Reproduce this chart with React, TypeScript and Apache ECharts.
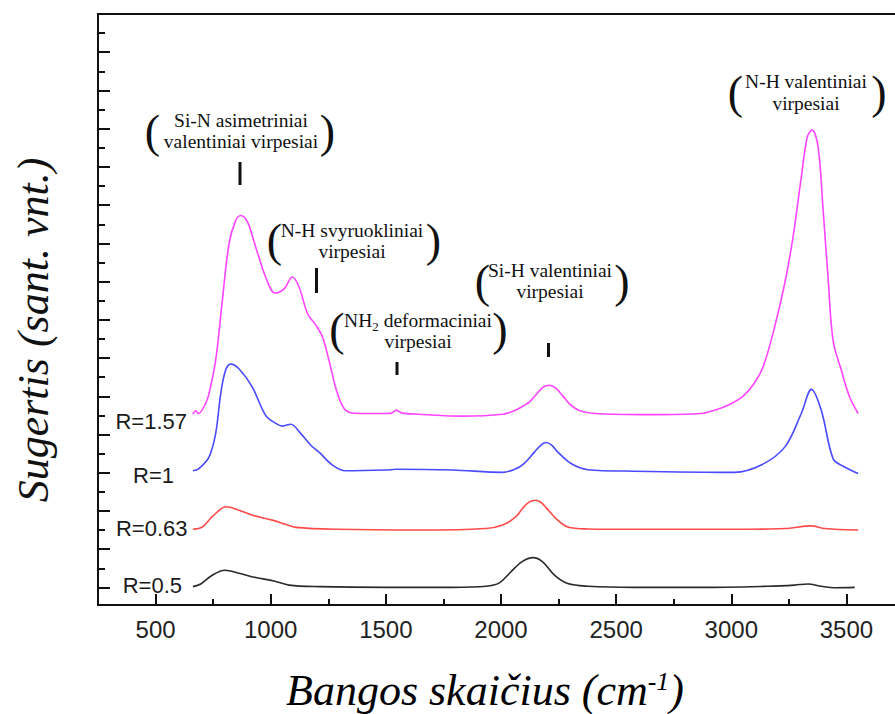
import React, { useEffect, useRef } from "react";
import * as echarts from "echarts";

// IR absorption spectra, [wavenumber cm^-1, absorbance (a.u., stacked)]
const seriesNames = ["R=1.57", "R=1", "R=0.63", "R=0.5"];
const seriesColors = ["#ff44ff", "#4a4aff", "#ff4a4a", "#2a2a2a"];

const specR157: [number, number][] = [
  [662, 45.3], [674, 46.2], [686, 45.5], [717, 48.1], [732, 50.7], [761, 59.4],
  [790, 75.1], [819, 89.9], [848, 96.0], [870, 97.3], [899, 95.6], [935, 89.0],
  [978, 81.2], [1019, 77.0], [1058, 78.1], [1094, 81.2], [1123, 78.6], [1160, 71.6],
  [1196, 68.6], [1225, 65.5], [1253, 59.4], [1290, 50.7], [1326, 46.3], [1384, 45.5],
  [1500, 45.5], [1525, 45.6], [1546, 46.3], [1570, 45.6], [1645, 45.3], [1833, 44.8],
  [2007, 45.3], [2060, 46.3], [2095, 47.4], [2125, 48.6], [2155, 50.6], [2183, 52.4],
  [2210, 52.9], [2238, 52.1], [2268, 50.1], [2300, 47.9], [2340, 46.3], [2406, 45.5],
  [2652, 45.2], [2870, 45.5], [2930, 46.4], [2990, 47.8], [3050, 50.0], [3100, 53.4],
  [3140, 58.0], [3188, 68.1], [3232, 79.5], [3268, 91.6], [3304, 107.3], [3330, 117.8],
  [3351, 119.7], [3377, 115.2], [3399, 98.6], [3420, 81.2], [3442, 64.6], [3478, 56.8],
  [3514, 49.8], [3551, 45.5],
];

const specR1: [number, number][] = [
  [662, 30.5], [688, 31.1], [732, 34.1], [761, 40.3], [783, 50.7], [804, 56.8],
  [826, 58.4], [862, 57.2], [920, 52.4], [978, 45.0], [1022, 42.9], [1051, 42.2],
  [1087, 42.7], [1130, 40.3], [1174, 37.2], [1210, 35.4], [1268, 32.0], [1326, 30.5],
  [1500, 30.7], [1543, 30.9], [1790, 30.7], [2007, 30.1], [2060, 30.9], [2100, 32.4],
  [2145, 35.4], [2175, 37.3], [2196, 37.9], [2220, 37.2], [2247, 35.4], [2304, 32.4],
  [2377, 30.8], [2580, 30.4], [3014, 30.1], [3130, 32.0], [3232, 36.7], [3304, 45.5],
  [3348, 51.8], [3391, 46.3], [3442, 33.7], [3486, 31.7], [3551, 29.8],
];

const specR063: [number, number][] = [
  [662, 15.2], [703, 15.8], [746, 18.5], [807, 21.1], [862, 20.2], [920, 18.9],
  [1007, 17.6], [1065, 16.5], [1109, 15.7], [1283, 15.2], [1645, 15.0], [1935, 15.4],
  [2007, 16.3], [2065, 18.5], [2095, 20.8], [2122, 22.3], [2148, 22.8], [2172, 22.3],
  [2200, 20.6], [2239, 18.0], [2290, 15.8], [2377, 15.3], [2580, 15.2], [3014, 15.2],
  [3232, 15.4], [3348, 16.1], [3406, 15.4], [3551, 15.0],
];

const specR05: [number, number][] = [
  [662, 0.2], [696, 0.9], [746, 3.2], [801, 4.5], [862, 3.7], [935, 2.6],
  [1014, 1.7], [1080, 0.6], [1210, 0.2], [1500, 0.0], [1790, 0.0], [1935, 0.3],
  [1993, 1.2], [2037, 3.7], [2090, 6.7], [2140, 7.8], [2181, 6.7], [2232, 3.2],
  [2290, 1.0], [2377, 0.3], [2580, 0.0], [2870, 0.0], [3160, 0.3], [3275, 0.6],
  [3333, 0.9], [3391, 0.3], [3449, -0.1], [3536, 0.0],
];

const spectra = [specR157, specR1, specR063, specR05];

const xMajorTicks = [500, 1000, 1500, 2000, 2500, 3000, 3500];
const xMinorTicks = [750, 1250, 1750, 2250, 2750, 3250];
const yMajorTicks = [0, 10, 20, 30, 40, 50, 60, 70, 80, 90, 100, 110, 120, 130, 140, 150];
const yMinorTicks = [5, 15, 25, 35, 45, 55, 65, 75, 85, 95, 105, 115, 125, 135, 145];

// band assignments
const bandNotes: string[][] = [
  ["Si-N asimetriniai", "valentiniai virpesiai"],
  ["N-H svyruokliniai", "virpesiai"],
  ["{t|NH}{s|2}{t| deformaciniai}", "virpesiai"],
  ["Si-H valentiniai", "virpesiai"],
  ["N-H valentiniai", "virpesiai"],
];

const xTitle = "{t|Bangos skaičius (cm}{sup|-1}{t|)}";
const yTitle = "Sugertis (sant. vnt.)";

const SERIF = '"Liberation Serif", "Times New Roman", serif';
const SANS = '"Liberation Sans", Arial, sans-serif';
const INK = "#111";

// layout of each bracketed note: centre x, line centres, bracket centres, marker bar
const noteLayout = [
  { cx: 241, y1: 120, y2: 141.5, lp: 152.5, rp: 327.5, py: 131, bar: [240, 162, 185] },
  { cx: 352, y1: 230, y2: 251.5, lp: 274.5, rp: 433.5, py: 240, bar: [316.5, 268, 293] },
  { cx: 418, y1: 320, y2: 341.5, lp: 337, rp: 500, py: 329, bar: [397, 362, 375] },
  { cx: 550, y1: 270, y2: 291.5, lp: 482.5, rp: 622, py: 281, bar: [548.5, 343, 357] },
  { cx: 806, y1: 81.5, y2: 103, lp: 735.5, rp: 879, py: 92, bar: null as null | number[] },
];

const labelLayout = [
  { x: 187, y: 421.5 },
  { x: 174, y: 475 },
  { x: 187.5, y: 528.5 },
  { x: 182, y: 585 },
];

function noteGraphics() {
  const out: any[] = [];
  bandNotes.forEach((lines, i) => {
    const L = noteLayout[i];
    const textStyle = {
      fontFamily: SERIF,
      fontSize: 19.5,
      fill: INK,
      align: "center",
      verticalAlign: "middle",
    };
    out.push({
      type: "text",
      x: L.cx,
      y: L.y1,
      style: {
        ...textStyle,
        text: lines[0],
        rich: {
          t: { fontFamily: SERIF, fontSize: 19.5, color: INK, lineHeight: 26, verticalAlign: "middle" },
          s: { fontFamily: SERIF, fontSize: 13, color: INK, lineHeight: 13, verticalAlign: "bottom" },
        },
      },
    });
    out.push({ type: "text", x: L.cx, y: L.y2, style: { ...textStyle, text: lines[1] } });
    const paren = { fontFamily: SERIF, fontSize: 46, fill: INK, align: "center", verticalAlign: "middle" };
    out.push({ type: "text", x: L.lp, y: L.py, style: { ...paren, text: "(" } });
    out.push({ type: "text", x: L.rp, y: L.py, style: { ...paren, text: ")" } });
    if (L.bar) {
      out.push({
        type: "rect",
        shape: { x: L.bar[0] - 1.5, y: L.bar[1], width: 3, height: L.bar[2] - L.bar[1] },
        style: { fill: INK },
      });
    }
  });
  return out;
}

export default function App() {
  const ref = useRef<HTMLDivElement>(null);

  useEffect(() => {
    if (!ref.current) return;
    const chart = echarts.init(ref.current, undefined, { renderer: "svg" });

    const axisLineStyle = { color: INK, width: 2 };

    const option: any = {
      animation: false,
      backgroundColor: "#ffffff",
      grid: {
        left: 98,
        top: 14,
        bottom: 109,
        right: 6,
        show: true,
        borderColor: INK,
        borderWidth: 2,
        backgroundColor: "transparent",
      },
      xAxis: [
        {
          type: "value",
          min: 250,
          max: 3750,
          position: "bottom",
          axisLine: { show: true, onZero: false, lineStyle: axisLineStyle },
          axisTick: { show: true, inside: true, length: 11, customValues: xMajorTicks, lineStyle: axisLineStyle },
          axisLabel: {
            show: true,
            customValues: xMajorTicks,
            formatter: (v: number) => String(v),
            fontSize: 24,
            fontFamily: SANS,
            color: "#222",
            margin: 12,
          },
          splitLine: { show: false },
        },
        {
          type: "value",
          min: 250,
          max: 3750,
          position: "bottom",
          axisLine: { show: false, onZero: false },
          axisTick: { show: true, inside: true, length: 6, customValues: xMinorTicks, lineStyle: axisLineStyle },
          axisLabel: { show: false },
          splitLine: { show: false },
        },
      ],
      yAxis: [
        {
          type: "value",
          min: -4.6,
          max: 150,
          position: "left",
          axisLine: { show: true, onZero: false, lineStyle: axisLineStyle },
          axisTick: { show: true, inside: true, length: 12, customValues: yMajorTicks, lineStyle: axisLineStyle },
          axisLabel: { show: false },
          splitLine: { show: false },
        },
        {
          type: "value",
          min: -4.6,
          max: 150,
          position: "left",
          axisLine: { show: false, onZero: false },
          axisTick: { show: true, inside: true, length: 7, customValues: yMinorTicks, lineStyle: axisLineStyle },
          axisLabel: { show: false },
          splitLine: { show: false },
        },
      ],
      series: spectra.map((data, i) => ({
        name: seriesNames[i],
        type: "line",
        xAxisIndex: 0,
        yAxisIndex: 0,
        data,
        showSymbol: false,
        smooth: 0.35,
        lineStyle: { color: seriesColors[i], width: 1.6 },
        z: 3 + i,
      })),
      graphic: [
        ...noteGraphics(),
        ...seriesNames.map((name, i) => ({
          type: "text",
          x: labelLayout[i].x,
          y: labelLayout[i].y,
          style: {
            text: name,
            fontFamily: SANS,
            fontSize: 22,
            fill: "#1a1a1a",
            align: "right",
            verticalAlign: "middle",
          },
        })),
        {
          type: "text",
          x: 485,
          y: 690,
          style: {
            text: xTitle,
            align: "center",
            verticalAlign: "middle",
            rich: {
              t: { fontFamily: SERIF, fontStyle: "italic", fontSize: 44, color: INK, lineHeight: 44, verticalAlign: "middle" },
              sup: { fontFamily: SERIF, fontStyle: "italic", fontSize: 26, color: INK, lineHeight: 22, verticalAlign: "top" },
            },
          },
        },
        {
          type: "text",
          x: 33,
          y: 330,
          rotation: Math.PI / 2,
          style: {
            text: yTitle,
            fontFamily: SERIF,
            fontStyle: "italic",
            fontSize: 44,
            fill: INK,
            align: "center",
            verticalAlign: "middle",
          },
        },
      ],
    };

    chart.setOption(option);
    return () => chart.dispose();
  }, []);

  return (
    <div style={{ position: "absolute", left: 0, top: 0, width: 895, height: 714, overflow: "hidden", background: "#fff" }}>
      <div ref={ref} style={{ width: 910, height: 714 }} />
    </div>
  );
}
